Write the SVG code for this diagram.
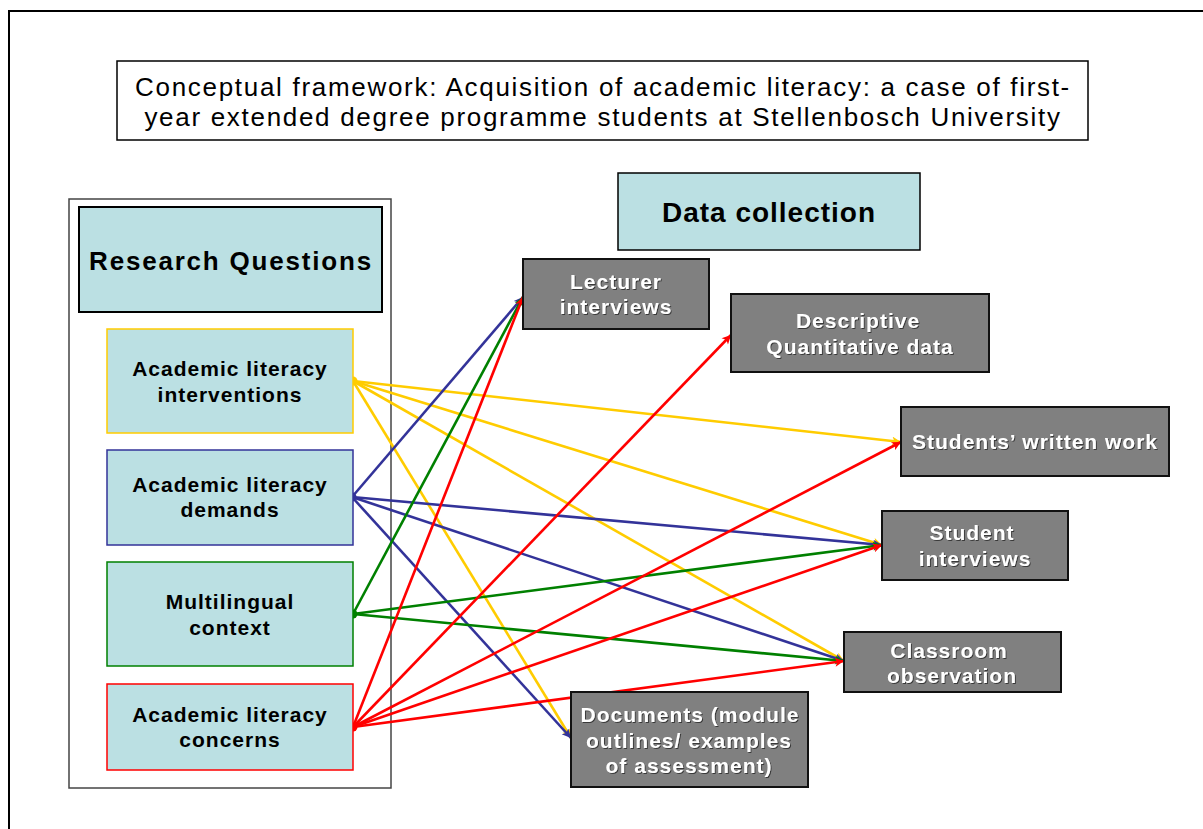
<svg xmlns="http://www.w3.org/2000/svg" width="1203" height="829" viewBox="0 0 1203 829">
<defs>
<style>
.t{font-family:"Liberation Sans",Arial,sans-serif;}
.title{font-size:26px;fill:#000;text-anchor:middle;letter-spacing:1.7px;}
.rq{font-size:21px;font-weight:bold;fill:#000;text-anchor:middle;letter-spacing:1px;}
.hd{font-size:26px;font-weight:bold;fill:#000;text-anchor:middle;letter-spacing:1.8px;}
.hd2{font-size:28px;font-weight:bold;fill:#000;text-anchor:middle;letter-spacing:1px;}
.gw{font-size:21px;font-weight:bold;fill:#fff;text-anchor:middle;letter-spacing:1px;filter:url(#sh);}
.bl{fill:#BBE0E3;}
.gr{fill:#808080;stroke:#111;stroke-width:2;}
.c{fill:none;stroke-width:2.6;}
.y{stroke:#FFCC00;}.b{stroke:#333399;}.g{stroke:#008000;}.r{stroke:#FF0000;}
</style>
<filter id="sh" x="-5%" y="-20%" width="110%" height="140%">
<feDropShadow dx="1" dy="1" stdDeviation="0.4" flood-color="#333" flood-opacity="0.9"/>
</filter>
<marker id="ay" viewBox="0 0 10 10" refX="10" refY="5" markerWidth="11" markerHeight="9" markerUnits="userSpaceOnUse" orient="auto"><path d="M0,0 L10,5 L0,10 L2.5,5 z" fill="#FFCC00"/></marker>
<marker id="ab" viewBox="0 0 10 10" refX="10" refY="5" markerWidth="11" markerHeight="9" markerUnits="userSpaceOnUse" orient="auto"><path d="M0,0 L10,5 L0,10 L2.5,5 z" fill="#333399"/></marker>
<marker id="ag" viewBox="0 0 10 10" refX="10" refY="5" markerWidth="11" markerHeight="9" markerUnits="userSpaceOnUse" orient="auto"><path d="M0,0 L10,5 L0,10 L2.5,5 z" fill="#008000"/></marker>
<marker id="ar" viewBox="0 0 10 10" refX="10" refY="5" markerWidth="11" markerHeight="9" markerUnits="userSpaceOnUse" orient="auto"><path d="M0,0 L10,5 L0,10 L2.5,5 z" fill="#FF0000"/></marker>
</defs>
<rect width="1203" height="829" fill="#fff"/>
<rect x="9" y="11" width="1210" height="830" fill="none" stroke="#000" stroke-width="2"/>

<g id="title">
<rect x="117" y="61" width="971" height="79" fill="#fff" stroke="#000" stroke-width="1.5"/>
<text class="t title" x="603" y="96">Conceptual framework: Acquisition of academic literacy: a case of first-</text>
<text class="t title" x="603" y="126">year extended degree programme students at Stellenbosch University</text>
</g>

<g id="rq-container">
<rect x="69" y="199" width="322" height="589" fill="#fff" stroke="#444" stroke-width="1.5"/>
</g>
<g id="research-questions">
<rect class="bl" x="79" y="207" width="303" height="105" stroke="#000" stroke-width="2"/>
<text class="t hd" x="231" y="270">Research Questions</text>
</g>
<g id="data-collection">
<rect class="bl" x="618" y="173" width="302" height="77" stroke="#000" stroke-width="1.5"/>
<text class="t hd2" x="769" y="222">Data collection</text>
</g>

<g id="connectors">
<line class="c y" x1="353" y1="381" x2="901" y2="442" marker-end="url(#ay)"/>
<line class="c y" x1="353" y1="381" x2="882" y2="545" marker-end="url(#ay)"/>
<line class="c y" x1="353" y1="381" x2="844" y2="661" marker-end="url(#ay)"/>
<line class="c y" x1="353" y1="381" x2="571" y2="738" marker-end="url(#ay)"/>
<line class="c b" x1="352" y1="497" x2="523" y2="297" marker-end="url(#ab)"/>
<line class="c b" x1="352" y1="497" x2="882" y2="545" marker-end="url(#ab)"/>
<line class="c b" x1="352" y1="497" x2="844" y2="661" marker-end="url(#ab)"/>
<line class="c b" x1="352" y1="497" x2="571" y2="738" marker-end="url(#ab)"/>
<line class="c g" x1="353" y1="614" x2="523" y2="297" marker-end="url(#ag)"/>
<line class="c g" x1="353" y1="614" x2="882" y2="545" marker-end="url(#ag)"/>
<line class="c g" x1="353" y1="614" x2="844" y2="661" marker-end="url(#ag)"/>
<line class="c r" x1="353" y1="727" x2="523" y2="297" marker-end="url(#ar)"/>
<line class="c r" x1="353" y1="727" x2="731" y2="335" marker-end="url(#ar)"/>
<line class="c r" x1="353" y1="727" x2="901" y2="442" marker-end="url(#ar)"/>
<line class="c r" x1="353" y1="727" x2="882" y2="545" marker-end="url(#ar)"/>
<line class="c r" x1="353" y1="727" x2="844" y2="661" marker-end="url(#ar)"/>
<circle cx="353" cy="381" r="4.5" fill="#FFCC00"/>
<circle cx="352" cy="497" r="4.5" fill="#333399"/>
<circle cx="353" cy="614" r="4.5" fill="#008000"/>
<circle cx="353" cy="727" r="4.5" fill="#FF0000"/>
</g>

<g id="interventions">
<rect class="bl" x="107" y="329" width="246" height="104" stroke="#FFCC00" stroke-width="1.5"/>
<text class="t rq" x="230" y="376">Academic literacy</text>
<text class="t rq" x="230" y="402">interventions</text>
</g>
<g id="demands">
<rect class="bl" x="107" y="450" width="246" height="95" stroke="#333399" stroke-width="1.5"/>
<text class="t rq" x="230" y="492">Academic literacy</text>
<text class="t rq" x="230" y="517">demands</text>
</g>
<g id="multilingual">
<rect class="bl" x="107" y="562" width="246" height="104" stroke="#008000" stroke-width="1.5"/>
<text class="t rq" x="230" y="609">Multilingual</text>
<text class="t rq" x="230" y="635">context</text>
</g>
<g id="concerns">
<rect class="bl" x="107" y="684" width="246" height="86" stroke="#FF0000" stroke-width="1.5"/>
<text class="t rq" x="230" y="722">Academic literacy</text>
<text class="t rq" x="230" y="747">concerns</text>
</g>

<g id="lecturer-interviews">
<rect class="gr" x="523" y="259" width="186" height="70"/>
<text class="t gw" x="616" y="289">Lecturer</text>
<text class="t gw" x="616" y="314">interviews</text>
</g>
<g id="descriptive-data">
<rect class="gr" x="731" y="294" width="258" height="78"/>
<text class="t gw" x="858" y="328">Descriptive</text>
<text class="t gw" x="860" y="354">Quantitative data</text>
</g>
<g id="written-work">
<rect class="gr" x="901" y="407" width="268" height="69"/>
<text class="t gw" x="1035" y="449">Students’ written work</text>
</g>
<g id="student-interviews">
<rect class="gr" x="882" y="511" width="186" height="69"/>
<text class="t gw" x="972" y="540">Student</text>
<text class="t gw" x="975" y="566">interviews</text>
</g>
<g id="classroom-observation">
<rect class="gr" x="844" y="632" width="217" height="60"/>
<text class="t gw" x="949" y="658">Classroom</text>
<text class="t gw" x="952" y="683">observation</text>
</g>
<g id="documents">
<rect class="gr" x="571" y="692" width="237" height="95"/>
<text class="t gw" x="690" y="722">Documents (module</text>
<text class="t gw" x="689" y="748">outlines/ examples</text>
<text class="t gw" x="689" y="773">of assessment)</text>
</g>
</svg>
